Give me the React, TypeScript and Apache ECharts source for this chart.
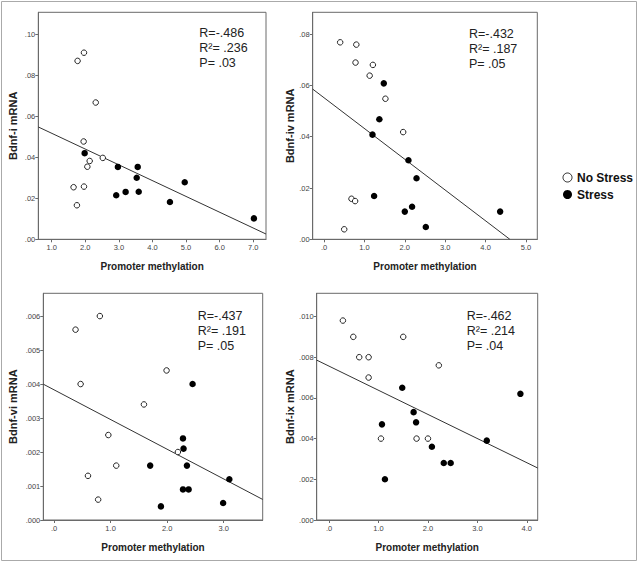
import React, { useEffect, useRef } from "react";
import * as echarts from "echarts";

// ---- data ----
const p1NoStress = [[1.77, 0.087], [1.96, 0.091], [2.31, 0.0667], [1.95, 0.0477], [2.52, 0.0397], [2.13, 0.0382], [2.06, 0.0354], [1.65, 0.0254], [1.96, 0.0257], [1.75, 0.0166]];
const p1Stress = [[1.98, 0.042], [2.97, 0.0353], [3.56, 0.0353], [3.53, 0.030], [2.92, 0.0215], [3.2, 0.0231], [3.59, 0.0232], [4.96, 0.0278], [4.52, 0.0182], [7.02, 0.0102]];

const p2NoStress = [[0.4, 0.0768], [0.8, 0.0759], [0.78, 0.0689], [1.21, 0.068], [1.13, 0.0638], [1.52, 0.0548], [1.96, 0.0418], [0.68, 0.0158], [0.77, 0.0149], [0.5, 0.0039]];
const p2Stress = [[1.48, 0.0608], [1.37, 0.0468], [1.2, 0.0408], [2.09, 0.0308], [2.29, 0.0238], [1.24, 0.0169], [2.0, 0.0108], [2.18, 0.0127], [2.52, 0.0048], [4.36, 0.0108]];

const p3NoStress = [[0.38, 0.0056], [0.81, 0.006], [0.47, 0.004], [1.99, 0.0044], [1.59, 0.0034], [0.96, 0.0025], [2.19, 0.002], [1.1, 0.0016], [0.6, 0.0013], [0.78, 0.0006]];
const p3Stress = [[2.45, 0.004], [2.28, 0.0024], [2.29, 0.0021], [1.7, 0.0016], [2.35, 0.0016], [2.28, 0.0009], [2.38, 0.0009], [1.89, 0.0004], [2.99, 0.0005], [3.1, 0.0012]];

const p4NoStress = [[0.28, 0.0098], [0.49, 0.009], [0.61, 0.008], [0.8, 0.008], [0.8, 0.007], [1.5, 0.009], [2.22, 0.0076], [1.05, 0.004], [1.77, 0.004], [2.0, 0.004]];
const p4Stress = [[1.48, 0.0065], [1.71, 0.0053], [1.76, 0.0048], [1.07, 0.0047], [2.08, 0.0036], [2.32, 0.0028], [2.46, 0.0028], [1.13, 0.002], [3.19, 0.0039], [3.87, 0.0062]];

// regression lines: [intercept, slope]
const p1Fit = [0.0594, -0.0077];
const p2Fit = [0.0552, -0.012];
const p3Fit = [0.00383, -0.000874];
const p4Fit = [0.00756, -0.001186];

// axis ranges and ticks
const p1XRange = [0.6, 7.38];
const p2XRange = [-0.28, 5.28];
const p3XRange = [-0.19, 3.69];
const p4XRange = [-0.25, 4.22];
const p1YMax = 0.1107;
const p2YMax = 0.0885;
const p3YMax = 0.00667;
const p4YMax = 0.01114;
const p1XTicks = [1, 2, 3, 4, 5, 6, 7];
const p2XTicks = [0, 1, 2, 3, 4, 5];
const p3XTicks = [0, 1, 2, 3];
const p4XTicks = [0, 1, 2, 3, 4];
const p1YTicks = [0, 0.02, 0.04, 0.06, 0.08, 0.1];
const p2YTicks = [0, 0.02, 0.04, 0.06, 0.08];
const p3YTicks = [0, 0.001, 0.002, 0.003, 0.004, 0.005, 0.006];
const p4YTicks = [0, 0.002, 0.004, 0.006, 0.008, 0.01];

const yTitles = ["Bdnf-i mRNA", "Bdnf-iv mRNA", "Bdnf-vi mRNA", "Bdnf-ix mRNA"];
const xTitle = "Promoter methylation";
const p1Stats = ["R=-.486", "R\u00b2= .236", "P= .03"];
const p2Stats = ["R=-.432", "R\u00b2= .187", "P= .05"];
const p3Stats = ["R=-.437", "R\u00b2= .191", "P= .05"];
const p4Stats = ["R=-.462", "R\u00b2= .214", "P= .04"];
const groupNames = ["No Stress", "Stress"];

// ---- layout ----
const grids = [
  { left: 38.3, top: 12.3, width: 227.7, height: 227 },
  { left: 312.7, top: 12.3, width: 224.6, height: 227 },
  { left: 43.3, top: 293.3, width: 219.4, height: 226.7 },
  { left: 316.7, top: 293.3, width: 221, height: 226.7 },
];
const yNameGaps = [20, 17, 25, 21];
const statsPos = [
  [199.3, 33.3],
  [469, 34.3],
  [197.7, 316],
  [466.7, 316],
];

const panels = [
  { no: p1NoStress, st: p1Stress, fit: p1Fit, xr: p1XRange, ymax: p1YMax, xt: p1XTicks, yt: p1YTicks, yd: 2, stats: p1Stats },
  { no: p2NoStress, st: p2Stress, fit: p2Fit, xr: p2XRange, ymax: p2YMax, xt: p2XTicks, yt: p2YTicks, yd: 2, stats: p2Stats },
  { no: p3NoStress, st: p3Stress, fit: p3Fit, xr: p3XRange, ymax: p3YMax, xt: p3XTicks, yt: p3YTicks, yd: 3, stats: p3Stats },
  { no: p4NoStress, st: p4Stress, fit: p4Fit, xr: p4XRange, ymax: p4YMax, xt: p4XTicks, yt: p4YTicks, yd: 3, stats: p4Stats },
];

const fmt = (v: number, d: number) => v.toFixed(d).replace(/^0(?=\.)/, "").replace(/^-0(?=\.)/, "-");

function fitLine(fit: number[], xr: number[]) {
  const [b, m] = fit;
  let x0 = xr[0];
  let x1 = xr[1];
  // clip at y = 0
  if (b + m * x1 < 0) x1 = -b / m;
  if (b + m * x0 < 0) x0 = -b / m;
  return [[x0, b + m * x0], [x1, b + m * x1]];
}

const AXIS_COLOR = "#6a6a6a";
const FONT = "Liberation Sans, Arial, sans-serif";

export default function App() {
  const ref = useRef<HTMLDivElement>(null);
  useEffect(() => {
    if (!ref.current) return;
    const chart = echarts.init(ref.current, null, { renderer: "svg" });
    const xAxis: any[] = [];
    const yAxis: any[] = [];
    const series: any[] = [];
    const graphic: any[] = [];
    panels.forEach((p, i) => {
      xAxis.push({
        type: "value",
        gridIndex: i,
        min: p.xr[0],
        max: p.xr[1],
        name: xTitle,
        nameLocation: "middle",
        nameGap: 22,
        nameTextStyle: { fontFamily: FONT, fontWeight: "bold", fontSize: 10, color: "#222" },
        axisLine: { show: true, onZero: false, lineStyle: { color: AXIS_COLOR, width: 1 } },
        axisTick: { show: true, length: 3, customValues: p.xt, lineStyle: { color: AXIS_COLOR } },
        axisLabel: {
          customValues: p.xt,
          formatter: (v: number) => fmt(v, 1),
          fontFamily: FONT,
          fontSize: 7.5,
          color: "#444",
          margin: 4,
        },
        splitLine: { show: false },
      });
      yAxis.push({
        type: "value",
        gridIndex: i,
        min: 0,
        max: p.ymax,
        name: yTitles[i],
        nameLocation: "middle",
        nameGap: yNameGaps[i],
        nameTextStyle: { fontFamily: FONT, fontWeight: "bold", fontSize: 11, color: "#222" },
        axisLine: { show: true, onZero: false, lineStyle: { color: AXIS_COLOR, width: 1 } },
        axisTick: { show: true, length: 3, customValues: p.yt, lineStyle: { color: AXIS_COLOR } },
        axisLabel: {
          customValues: p.yt,
          formatter: (v: number) => fmt(v, p.yd),
          fontFamily: FONT,
          fontSize: 7.5,
          color: "#444",
          margin: 3,
        },
        splitLine: { show: false },
      });
      series.push({
        type: "line",
        xAxisIndex: i,
        yAxisIndex: i,
        data: fitLine(p.fit, p.xr),
        symbol: "none",
        lineStyle: { color: "#333", width: 1 },
        silent: true,
        z: 1,
      });
      series.push({
        name: groupNames[0],
        type: "scatter",
        xAxisIndex: i,
        yAxisIndex: i,
        data: p.no,
        symbol: "circle",
        symbolSize: 5.5,
        itemStyle: { color: "#ffffff", borderColor: "#222", borderWidth: 1, opacity: 1 },
        z: 3,
      });
      series.push({
        name: groupNames[1],
        type: "scatter",
        xAxisIndex: i,
        yAxisIndex: i,
        data: p.st,
        symbol: "circle",
        symbolSize: 6.5,
        itemStyle: { color: "#000000", borderWidth: 0, opacity: 1 },
        z: 3,
      });
      p.stats.forEach((s, k) => {
        graphic.push({
          type: "text",
          left: statsPos[i][0],
          top: statsPos[i][1] + k * 15 - 7,
          style: { text: s, font: `12.5px ${FONT}`, fill: "#222" },
          silent: true,
        });
      });
    });
    graphic.push({
      type: "rect",
      shape: { x: 1.5, y: 1.5, width: 635, height: 559 },
      style: { fill: "none", stroke: "#aaaaaa", lineWidth: 1 },
      silent: true,
      z: -1,
    });
    chart.setOption({
      animation: false,
      backgroundColor: "#ffffff",
      grid: grids.map((g) => ({
        ...g,
        show: true,
        borderColor: AXIS_COLOR,
        borderWidth: 1,
        backgroundColor: "transparent",
        containLabel: false,
        outerBoundsMode: "none",
      })),
      xAxis,
      yAxis,
      series,
      legend: {
        data: [
          { name: groupNames[0], icon: "circle", itemStyle: { color: "#fff", borderColor: "#222", borderWidth: 1 } },
          { name: groupNames[1], icon: "circle", itemStyle: { color: "#000", borderWidth: 0 } },
        ],
        orient: "vertical",
        left: 557.5,
        top: 166,
        itemWidth: 9,
        itemHeight: 9,
        itemGap: 4,
        selectedMode: false,
        textStyle: { fontFamily: FONT, fontSize: 12, fontWeight: "bold", color: "#111", lineHeight: 13 },
      },
      graphic,
    });
    return () => chart.dispose();
  }, []);
  return (
    <div
      ref={ref}
      style={{ position: "absolute", left: 0, top: 0, width: 638, height: 563, background: "#fff" }}
    />
  );
}
